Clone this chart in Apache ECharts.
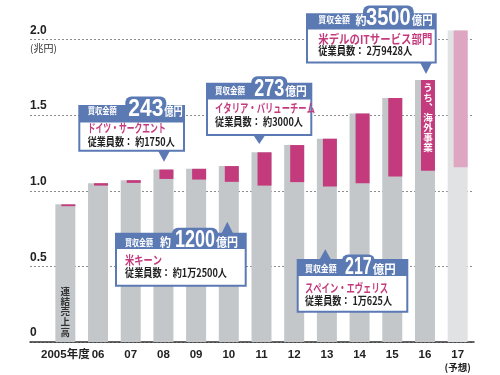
<!DOCTYPE html>
<html><head><meta charset="utf-8">
<script src="https://cdn.jsdelivr.net/npm/echarts@6/dist/echarts.min.js"></script>
<style>html,body{margin:0;padding:0;background:#fff}#c{width:500px;height:375px}</style>
</head><body><div id="c"></div>
<script>
// ---- data ----
const years = ['2005年度','06','07','08','09','10','11','12','13','14','15','16','17'];
const totalSales = [0.91,1.05,1.07,1.14,1.145,1.163,1.254,1.302,1.344,1.51,1.614,1.733,2.06];
const overseasSales = [0.012,0.016,0.018,0.062,0.071,0.104,0.22,0.245,0.316,0.46,0.52,0.60,0.905];
const yTickLabels = ['0','0.5','1.0','1.5','2.0'];

const BLUE = '#5b79b3', MAG = '#c43b7d', GRAY = '#c4c7ca';
const JP = '"Noto Sans CJK JP", sans-serif';
const NUM = '"Liberation Sans Narrow", "Liberation Sans", "Noto Sans CJK JP", sans-serif';
const LAB = '"Liberation Sans Narrow", "Liberation Sans", "Noto Sans CJK JP", sans-serif';

// ---- callout layout ----
const callouts = [
 {box:[78.3,105,185,151.7], hb:122.5, tip:[164,161.7], dir:'down', hx:87.7, hw:29, hy:111, nx:128.3, nw:35, num:'243', uw:18.5, title:'ドイツ・サークエント', tw:78, ty:128.7, emp:'従業員数： 約1750人', ew:87, ey:141.7},
 {box:[206,82.7,312.3,136], hb:99.5, tip:[259.3,144], dir:'down', hx:215, hw:30, hy:90.7, nx:254.3, nw:30, num:'273', uw:21.5, title:'イタリア・バリューチーム', tw:100, ty:108.3, emp:'従業員数： 約3000人', ew:88, ey:121.7},
 {box:[306,13.3,436.7,63.5], hb:29.5, tip:[426,74], dir:'down', hx:318.3, hw:31.7, hy:20, pre:'約', px:355.5, nx:366, nw:44.7, num:'3500', uw:21, title:'米デルのITサービス部門', tw:114, ty:39, emp:'従業員数： 2万9428人', ew:94, ey:50.5},
 {box:[115,232.7,246.7,286.7], hb:249, tip:[227.3,221.7], dir:'up', hx:125, hw:28, hy:242.2, pre:'約', px:160, nx:175, nw:40, num:'1200', uw:22, title:'米キーン', tw:37, ty:260, emp:'従業員数： 約1万2500人', ew:102, ey:273},
 {box:[296.7,259,408.3,312.7], hb:276, tip:[325.3,249.3], dir:'up', hx:305, hw:31.7, hy:269, nx:345, nw:26.7, num:'217', uw:23, title:'スペイン・エヴェリス', tw:83, ty:288.3, emp:'従業員数： 1万625人', ew:87, ey:301}
];

const cv = document.createElement('canvas').getContext('2d');
function mw(t, f){ cv.font = f; return cv.measureText(t).width; }
function fitText(t, font, x, y, w, fill){
  const nat = mw(t, font);
  return {type:'text', x:x, y:y, scaleX: w/nat, z:100,
    style:{text:t, font:font, fill:fill, textAlign:'left', textVerticalAlign:'middle'}};
}

const graphics = [];
callouts.forEach(c => {
  const [x0,y0,x1,y1] = c.box;
  const [tx,ty] = c.tip;
  const ny = c.hy - 1.5;
  const bumpTop = c.hy - 14.5;
  const el = [];
  if (c.dir === 'down') {
    el.push({type:'polygon', z:99, shape:{points:[[tx-6,y1-1],[tx+6,y1-1],[tx,ty]]}, style:{fill:BLUE}});
  } else {
    el.push({type:'polygon', z:99, shape:{points:[[tx-6,y0+1],[tx+6,y0+1],[tx,ty]]}, style:{fill:BLUE}});
  }
  el.push({type:'rect', z:99, shape:{x:x0,y:y0,width:x1-x0,height:y1-y0}, style:{fill:BLUE}});
  el.push({type:'rect', z:99, shape:{x:c.nx-3,y:bumpTop,width:c.nw+6,height:(y0-bumpTop)+4, r:[6,6,0,0]}, style:{fill:BLUE}});
  el.push({type:'rect', z:99, shape:{x:x0+2,y:c.hb,width:x1-x0-4,height:y1-2-c.hb}, style:{fill:'#fff'}});
  el.push(fitText('買収金額', 'bold 9px '+JP, c.hx, c.hy, c.hw, '#fff'));
  if (c.pre) el.push(fitText(c.pre, 'bold 12px '+JP, c.px, c.hy+0.5, 11, '#fff'));
  el.push(fitText(c.num, 'bold 24px '+NUM, c.nx, ny, c.nw, '#fff'));
  el.push(fitText('億円', 'bold 12px '+JP, c.nx+c.nw+1, c.hy+0.5, c.uw, '#fff'));
  el.push(fitText(c.title, 'bold 12px '+JP, c.hx, c.ty, c.tw, MAG));
  el.push(fitText(c.emp, 'bold 11px '+JP, c.hx, c.ey, c.ew, '#222'));
  graphics.push(...el);
});
graphics.push({type:'text', x:30, y:48, z:100, style:{text:'(兆円)', font:'10px '+JP, fill:'#333', textAlign:'left', textVerticalAlign:'middle'}});

const last = years.length - 1;
const grayData = totalSales.map((v,i) => i === last ? {value:v, itemStyle:{color:'#e0e2e4'}} : v);
const baseData = totalSales.map((v,i) => v - overseasSales[i]);
const ovData = overseasSales.map((v,i) => i === last ? {value:v, itemStyle:{color:'#dea6c0'}} : v);

const chart = echarts.init(document.getElementById('c'), null, {renderer:'canvas', width:500, height:375});
chart.setOption({
  animation:false,
  grid:[{left:30,right:26,top:39.5,bottom:33},{left:49,right:26,top:39.5,bottom:33}],
  xAxis:[
    {gridIndex:0, type:'value', min:0, max:1, axisLine:{show:true, onZero:false, lineStyle:{color:'#333', width:1.5}},
     axisTick:{show:false}, axisLabel:{show:false}, splitLine:{show:false}},
    {gridIndex:1, type:'category', data:years, axisLine:{show:false}, axisTick:{show:false},
     axisLabel:{margin:6, color:'#222', fontSize:11.5, fontWeight:'bold', fontFamily:LAB, lineHeight:13, interval:0,
       formatter:(v)=> v==='17' ? '17\n{s|(予想)}' : v,
       rich:{s:{fontSize:9.5, fontFamily:JP, fontWeight:'bold', color:'#222', lineHeight:13}}}}
  ],
  yAxis:[
    {gridIndex:0, type:'value', min:0, max:2, interval:0.5, axisLine:{show:false}, axisTick:{show:false},
     splitLine:{show:true, lineStyle:{type:[2,2], color:'#8c8c8c', width:1}},
     axisLabel:{inside:true, margin:0, verticalAlign:'bottom', padding:[0,0,3,0], color:'#222', fontSize:12,
       fontWeight:'bold', fontFamily:LAB, formatter:(v)=> yTickLabels[Math.round(v/0.5)]}},
    {gridIndex:1, type:'value', min:0, max:2, show:false}
  ],
  series:[
    {type:'bar', xAxisIndex:1, yAxisIndex:1, data:grayData, barWidth:20, barGap:'-70%', clip:false,
     itemStyle:{color:GRAY}, silent:true},
    {type:'bar', xAxisIndex:1, yAxisIndex:1, data:baseData, stack:'o', barWidth:14, barGap:'-70%', clip:false,
     itemStyle:{color:'rgba(0,0,0,0)'}, silent:true},
    {type:'bar', xAxisIndex:1, yAxisIndex:1, data:ovData, stack:'o', barWidth:14, barGap:'-70%', clip:false,
     itemStyle:{color:MAG}, silent:true}
  ]
});

// vertical in-bar notes, anchored to bars through the axes
const p0 = chart.convertToPixel({gridIndex:1}, [0, 0]);
graphics.push({type:'text', x:p0[0], y:p0[1]-5, z:50,
  style:{text:'連\n結\n売\n上\n高', font:'bold 9.5px '+JP, lineHeight:10.2, fill:'#333', textAlign:'center', textVerticalAlign:'bottom'}});
const p16 = chart.convertToPixel({gridIndex:1}, [11, totalSales[11]]);
graphics.push({type:'text', x:p16[0]+3, y:p16[1]+3, z:50,
  style:{text:'う\nち\n︑\n海\n外\n事\n業', font:'bold 9.5px '+JP, lineHeight:10, fill:'#fff', textAlign:'center', textVerticalAlign:'top'}});

chart.setOption({graphic:graphics});
</script></body></html>
